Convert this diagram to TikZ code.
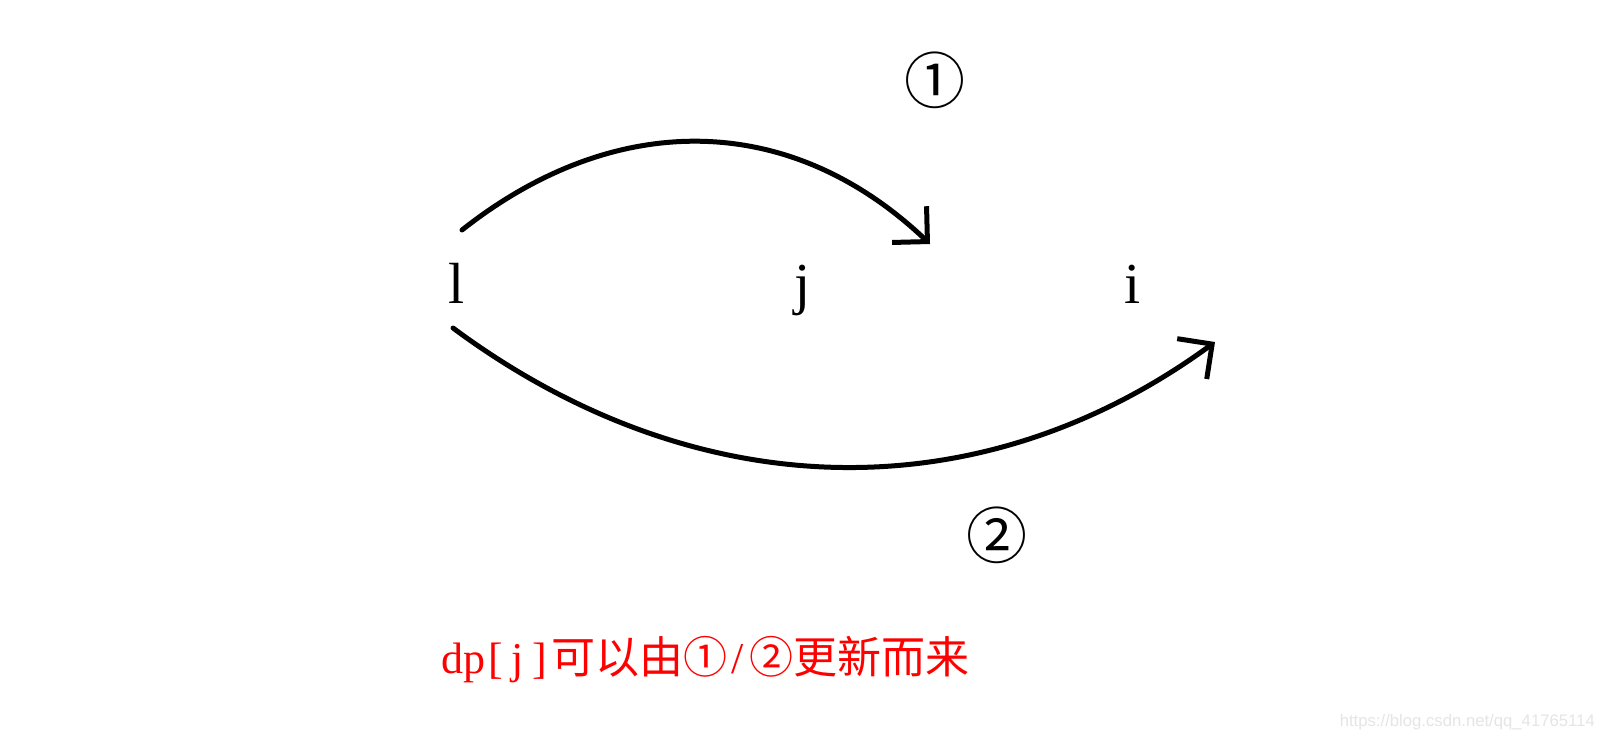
\documentclass[tikz,border=0pt]{standalone}
\usepackage{fontspec}
\setmainfont{Liberation Serif}
\newfontfamily\cjk{Noto Sans CJK SC}
\newfontfamily\wmfont{Liberation Sans}
\usetikzlibrary{arrows.meta}
\newcommand{\hw}[1]{\makebox[0.5em]{#1}}
\tikzset{
  arc/.style={line width=5pt, line cap=round, -{Straight Barb[length=25pt,width=50pt,line width=5pt]}},
  letter/.style={inner sep=0pt, anchor=base, font=\fontsize{58}{60}\selectfont},
  circ/.style={inner sep=0pt, font=\cjk\fontsize{61}{64}\selectfont},
  note/.style={inner sep=0pt, text=red, font=\fontsize{44}{46}\selectfont},
  wm/.style={inner sep=0pt, text=black!10, font=\wmfont\fontsize{16.7}{18}\selectfont}
}
\begin{document}
\begin{tikzpicture}[x=1pt,y=-1pt]
\useasboundingbox (0,0) rectangle (1604,740);
\fill[white] (0,0) rectangle (1604,740);
\node[letter] (l) at (457,303) {l};
\node[letter] (j) at (803,303) {j};
\node[letter] (i) at (1133,303) {i};
\node[circ] (c1) at (935,80) {①};
\node[circ] (c2) at (997,535) {②};
\node[note] (t) at (705,660) {\hw{d}\hw{p}\hw{[}\hw{j}\hw{]}{\cjk 可以由①}\hw{/}{\cjk ②更新而来}};
\node[wm, anchor=east] (w) at (1595,722) {https://blog.csdn.net/qq\_41765114};
\coordinate (s1) at (462,230);
\coordinate (e1) at (930,244);
\coordinate (s2) at (453,328);
\coordinate (e2) at (1215,342);
\draw[arc] (s1) .. controls (614,110) and (789,110) .. (e1);
\draw[arc] (s2) .. controls (700,511) and (984,511) .. (e2);
\end{tikzpicture}
\end{document}
